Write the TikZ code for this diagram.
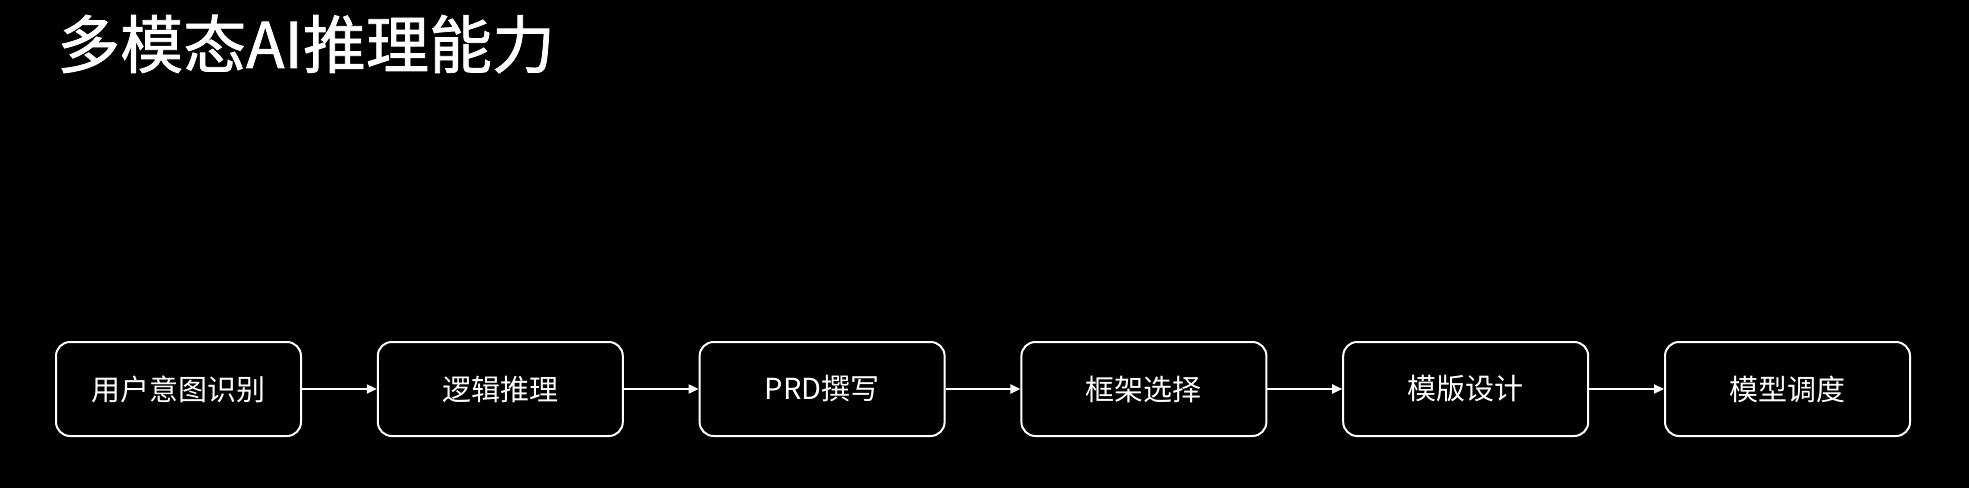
\documentclass[tikz,border=0pt]{standalone}
\usepackage{fontspec}
\setmainfont{Noto Sans CJK SC}
\newfontfamily\titlefont[FakeBold=1.2]{Noto Sans CJK SC}
\usetikzlibrary{arrows.meta}
\begin{document}
\begin{tikzpicture}[x=1pt,y=-1pt,
  stepbox/.style={draw=white,line width=2pt,rounded corners=14pt,minimum width=245pt,minimum height=94pt,inner sep=0pt,text=white,font=\fontsize{29}{35}\selectfont},
  flow/.style={draw=white,line width=2pt,-{Triangle[length=10pt,width=9pt]}}]
\useasboundingbox (0,0) rectangle (1969,487);
\fill[black] (-2,-2) rectangle (1971,489);
\node[anchor=west,inner sep=0pt,text=white,font=\fontsize{63}{70}\titlefont] (title) at (57,44) {多模态AI推理能力};
\node[stepbox] (s1) at (178.5,389) {用户意图识别};
\node[stepbox] (s2) at (500.3,389) {逻辑推理};
\node[stepbox] (s3) at (822.1,389) {PRD撰写};
\node[stepbox] (s4) at (1143.9,389) {框架选择};
\node[stepbox] (s5) at (1465.7,389) {模版设计};
\node[stepbox] (s6) at (1787.5,389) {模型调度};
\draw[flow] (s1) -- (s2);
\draw[flow] (s2) -- (s3);
\draw[flow] (s3) -- (s4);
\draw[flow] (s4) -- (s5);
\draw[flow] (s5) -- (s6);
\end{tikzpicture}
\end{document}
